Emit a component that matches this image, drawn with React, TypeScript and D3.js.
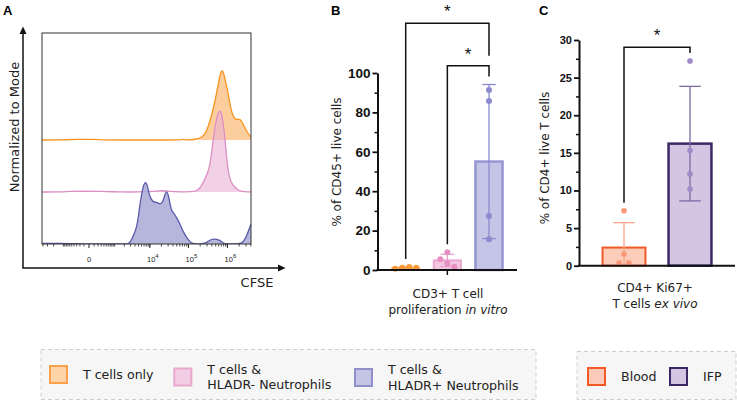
import { useEffect, useRef } from 'react';
import * as d3 from 'd3';

const W = 737;
const H = 401;
const SANS = "'DejaVu Sans', 'Noto Sans', sans-serif";
const ARIAL = "'Liberation Sans', Arial, sans-serif";

// ---- A: CFSE dilution histograms (CFSE intensity, % of mode) ----
const tOnlyCfse = [-4250, -1285, -302, 150, 300, 1483, 20400, 60700, 73800, 90300, 147500, 219300, 266300, 305000, 358300, 410600, 481400, 551600, 627400, 686300, 740600, 819500, 894600, 994700, 1100000, 1238000, 1418000, 1569000, 1818000, 2107000, 2370000, 2830000, 3441000, 4030000];
const tOnlyMode = [0, 0, 0.8, 0.8, 0, 0, 0, 0, 1, 0, 0.6, 3.2, 7, 13.4, 23, 33.7, 47.6, 62, 76, 83, 85.4, 80.5, 71, 62, 51, 36.6, 29, 25.6, 25, 25.6, 22, 14.6, 7.3, 3.7];

const hladrNegCfse = [-4250, -1285, -600, -199, 300, 1483, 5463, 12340, 20400, 27500, 40800, 90300, 147500, 179400, 219300, 266300, 318000, 358300, 403000, 435000, 481400, 531800, 584400, 646100, 715100, 786400, 868200, 994700, 1100000, 1238000, 1418000, 1733000, 2107000, 2830000, 4030000];
const hladrNegMode = [0, 0, 0.8, 1, 0.8, 0, 0, 0.8, 1.8, 1.2, 0.5, 0, 0.5, 2.4, 8, 16, 24, 34, 51, 65, 80, 90, 97, 100, 95, 83, 65, 33, 20, 12, 8, 3.7, 1.2, 0.3, 0];

const hladrPosCfse = [-4250, -1285, -302, 0, 1483, 2087, 2598, 3096, 3588, 4447, 4976, 5463, 6074, 6700, 7437, 7907, 8666, 9482, 10725, 12340, 15110, 17380, 20400, 22730, 24880, 27500, 30300, 33500, 37200, 40800, 49900, 60700, 73800, 90300, 109800, 133300, 237000, 294600, 358300, 435000, 531800, 646100, 786400, 868200, 2107000, 2557000, 3131000, 3585000, 4030000];
const hladrPosMode = [0.6, 1, 0.4, 0, 0, 0, 0, 3.7, 10, 20, 34, 49, 61, 71, 75, 75, 71, 61, 55, 51, 51, 49, 49, 54, 61, 65, 60, 49, 40, 38.5, 32, 24.4, 14.6, 8, 2.4, 0, 0, 1.8, 4.9, 6, 6, 4.3, 1.2, 0, 0, 2.4, 10, 18, 24.4];

const cfseTicks = [0, 1e4, 1e5, 1e6];

// ---- B: CD3+ T cell proliferation in vitro (% of CD45+ live cells) ----
const invitroGroups = ['T cells only', 'HLADR- Neutrophils', 'HLADR+ Neutrophils'];
const tOnlyPct = [0.6, 1.5, 1.2, 1.2];
const hladrNegPct = [9.0, 5.4, 3.4, 1.7];
const hladrPosPct = [91.4, 85.8, 27.4, 15.6];
const invitroSig = [
  ['T cells only', 'HLADR+ Neutrophils', '*'],
  ['HLADR- Neutrophils', 'HLADR+ Neutrophils', '*'],
];

// ---- C: CD4+ Ki67+ T cells ex vivo (% of CD4+ live T cells) ----
const exvivoGroups = ['Blood', 'IFP'];
const bloodPct = [7.3, 1.55, 0.4, 0.4];
const ifpPct = [27.2, 15.3, 12.2, 10.2];
const exvivoSig = [['Blood', 'IFP', '*']];

const histStyles = [
  { stroke: '#f7941d', fill: '#fbbd7d', opacity: 0.75 },
  { stroke: '#dc8fc4', fill: '#eab0d3', opacity: 0.6 },
  { stroke: '#5a5aaa', fill: '#a9a9d6', opacity: 0.85 },
];

const invitroStyles = [
  { fill: '#fcd2a6', stroke: '#f7a24c', dot: '#f7983a', err: '#f7a24c', sw: 1.5 },
  { fill: '#f4c8e1', stroke: '#e9a6cf', dot: '#e58fc3', err: '#e9a0cc', sw: 2 },
  { fill: '#c5c5e7', stroke: '#9696d2', dot: '#8b8bcf', err: '#8b8bcf', sw: 2.5 },
];
const exvivoStyles = [
  { fill: '#fccdb9', stroke: '#f15a24', dot: '#f7987a', err: '#f7a68c', sw: 2 },
  { fill: '#d4c6e3', stroke: '#3b2865', dot: '#a08bc8', err: '#7b68a4', sw: 2.5 },
];

const legendLeft = [
  { label: ['T cells only'], fill: '#fdd4a8', stroke: '#f9a04a' },
  { label: ['T cells &', 'HLADR- Neutrophils'], fill: '#f3cde3', stroke: '#eaa8cf' },
  { label: ['T cells &', 'HLADR+ Neutrophils'], fill: '#c4c4e4', stroke: '#8f8fca' },
];
const legendRight = [
  { label: ['Blood'], fill: '#fccabb', stroke: '#f15a24' },
  { label: ['IFP'], fill: '#d4c6e2', stroke: '#3a2865' },
];

// spread overlapping dots sideways, then centre each touching cluster
function dodge(vals, y, minGap) {
  const order = d3.range(vals.length).sort((a, b) => vals[b] - vals[a]);
  const slot = vals.map(() => 0);
  const placed = [];
  const cand = [0, -1, 1, -2, 2, -3, 3];
  for (const i of order) {
    for (const s of cand) {
      const free = placed.every((j) => slot[j] !== s || Math.abs(y(vals[j]) - y(vals[i])) >= minGap);
      if (free) { slot[i] = s; break; }
    }
    placed.push(i);
  }
  const parent = vals.map((_, i) => i);
  const find = (i) => (parent[i] === i ? i : (parent[i] = find(parent[i])));
  vals.forEach((a, i) => vals.forEach((b, j) => {
    if (i < j && Math.abs(y(a) - y(b)) < minGap) parent[find(i)] = find(j);
  }));
  const groups = d3.group(d3.range(vals.length), find);
  groups.forEach((idx) => {
    const [lo, hi] = d3.extent(idx, (i) => slot[i]);
    idx.forEach((i) => { slot[i] -= (lo + hi) / 2; });
  });
  return slot;
}

function drawHistograms(svg) {
  const box = { left: 42, right: 251, top: 33, bottom: 244 };
  const x = d3.scaleSymlog().constant(283).domain([-4250, 4.03e6]).range([box.left, box.right]);
  const h = d3.scaleLinear().domain([0, 100]).range([0, 82]);
  const laneStep = 52;
  const g = svg.append('g');

  g.append('text').attr('x', 3).attr('y', 15).attr('font-family', ARIAL)
    .attr('font-weight', 'bold').attr('font-size', 13).text('A');

  // outer arrows
  g.append('line').attr('x1', 23).attr('y1', 268).attr('x2', 23).attr('y2', 33)
    .attr('stroke', '#111').attr('stroke-width', 1.5);
  g.append('path').attr('d', 'M23,26.5 L19.5,34 L26.5,34 Z').attr('fill', '#111');
  g.append('line').attr('x1', 22.3).attr('y1', 268).attr('x2', 279).attr('y2', 268)
    .attr('stroke', '#111').attr('stroke-width', 1.5);
  g.append('path').attr('d', 'M285.5,268 L278,264.5 L278,271.5 Z').attr('fill', '#111');

  g.append('text')
    .attr('transform', 'translate(19,127) rotate(-90)')
    .attr('text-anchor', 'middle').attr('font-family', SANS).attr('font-size', 13)
    .attr('fill', '#222').text('Normalized to Mode');
  g.append('text').attr('x', 257).attr('y', 287).attr('text-anchor', 'middle')
    .attr('font-family', SANS).attr('font-size', 13).attr('fill', '#222').text('CFSE');

  svg.append('clipPath').attr('id', 'histClip').append('rect')
    .attr('x', box.left).attr('y', box.top).attr('width', box.right - box.left).attr('height', box.bottom - box.top);

  const series = [
    [hladrPosCfse, hladrPosMode],
    [hladrNegCfse, hladrNegMode],
    [tOnlyCfse, tOnlyMode],
  ];
  const plot = g.append('g').attr('clip-path', 'url(#histClip)');
  // draw the top lane first so lower lanes sit over it
  [2, 1, 0].forEach((lane) => {
    const [xs, ys] = series[lane];
    const pts = xs.map((v, i) => [v, ys[i]]);
    const base = box.bottom - lane * laneStep;
    const st = histStyles[2 - lane];
    const area = d3.area().x((d) => x(d[0])).y0(base).y1((d) => base - h(d[1])).curve(d3.curveBasis);
    const line = d3.line().x((d) => x(d[0])).y((d) => base - h(d[1])).curve(d3.curveBasis);
    plot.append('path').attr('d', area(pts)).attr('fill', st.fill).attr('fill-opacity', st.opacity);
    plot.append('path').attr('d', line(pts)).attr('fill', 'none').attr('stroke', st.stroke).attr('stroke-width', 1.3);
  });

  g.append('rect').attr('x', box.left).attr('y', box.top)
    .attr('width', box.right - box.left).attr('height', box.bottom - box.top)
    .attr('fill', 'none').attr('stroke', '#333').attr('stroke-width', 1);

  // biexponential minor ticks along the bottom edge
  const minor = [];
  [-1000, -100].forEach((d) => d3.range(1, 10).forEach((k) => { if (d * k >= -4250) minor.push(d * k); }));
  [100, 1000, 1e4, 1e5, 1e6].forEach((d) => d3.range(1, 10).forEach((k) => { if (d * k <= 4.03e6) minor.push(d * k); }));
  g.selectAll('.mtick').data(minor).join('line')
    .attr('x1', (d) => x(d)).attr('x2', (d) => x(d))
    .attr('y1', box.bottom).attr('y2', box.bottom + 2.5)
    .attr('stroke', '#222').attr('stroke-width', 0.8);
  g.selectAll('.Mtick').data(cfseTicks).join('line')
    .attr('x1', (d) => x(d)).attr('x2', (d) => x(d))
    .attr('y1', box.bottom).attr('y2', box.bottom + 4)
    .attr('stroke', '#222').attr('stroke-width', 1);

  const labels = g.selectAll('.tl').data(cfseTicks).join('text')
    .attr('x', (d) => (d === 0 ? x(d) : x(d) + 3)).attr('y', 262)
    .attr('text-anchor', 'middle').attr('font-family', ARIAL).attr('font-size', 7.5).attr('fill', '#222');
  labels.each(function (d) {
    const t = d3.select(this);
    if (d === 0) { t.text('0'); return; }
    t.append('tspan').text('10');
    t.append('tspan').attr('dy', -4).attr('font-size', 6).text(String(Math.round(Math.log10(d))));
  });
}

function drawBars(svg, cfg) {
  const g = svg.append('g');
  const y = d3.scaleLinear().domain([0, cfg.yMax]).range([cfg.yBottom, cfg.yTop]);
  const x = d3.scalePoint().domain(cfg.groups).range(cfg.centers);
  const step = (cfg.centers[1] - cfg.centers[0]) / (cfg.groups.length - 1);
  const bw = step * 0.65;
  const cap = bw / 2;

  g.append('text').attr('x', cfg.labelX).attr('y', 15).attr('font-family', ARIAL)
    .attr('font-weight', 'bold').attr('font-size', 13).text(cfg.label);

  const stats = cfg.values.map((v) => {
    const m = d3.mean(v);
    const sd = d3.deviation(v);
    return { m, hi: m + sd, lo: Math.max(0, m - sd), top: Math.max(m + sd, d3.max(v)) };
  });

  cfg.groups.forEach((grp, i) => {
    const st = cfg.styles[i];
    const s = stats[i];
    const cx = x(grp);
    g.append('rect').attr('x', cx - bw / 2).attr('y', y(s.m))
      .attr('width', bw).attr('height', y(0) - y(s.m))
      .attr('fill', st.fill).attr('stroke', st.stroke).attr('stroke-width', st.sw);
    g.append('line').attr('x1', cx).attr('x2', cx).attr('y1', y(s.lo)).attr('y2', y(s.hi))
      .attr('stroke', st.err).attr('stroke-width', 1.3);
    [s.hi, s.lo].forEach((v) => {
      if (v <= 0) return;
      g.append('line').attr('x1', cx - cap / 2).attr('x2', cx + cap / 2).attr('y1', y(v)).attr('y2', y(v))
        .attr('stroke', st.err).attr('stroke-width', 1.3);
    });
    const slots = dodge(cfg.values[i], y, cfg.minGap);
    g.selectAll(null).data(cfg.values[i]).join('circle')
      .attr('cx', (d, j) => cx + slots[j] * cfg.dodgeStep).attr('cy', (d) => y(d))
      .attr('r', cfg.dotR).attr('fill', st.dot);
  });

  // axes
  const majors = d3.range(0, cfg.yMax + 1e-9, cfg.major);
  const minors = d3.range(cfg.minor, cfg.yMax, cfg.major);
  const ya = g.append('g').attr('transform', `translate(${cfg.axisX},0)`)
    .call(d3.axisLeft(y).tickValues(majors).tickSize(5).tickSizeOuter(0).tickPadding(2));
  ya.select('.domain').attr('stroke', '#111').attr('stroke-width', 2);
  ya.selectAll('.tick line').attr('stroke', '#111').attr('stroke-width', 1.8);
  ya.selectAll('.tick text').attr('font-family', ARIAL).attr('font-weight', 'bold')
    .attr('font-size', cfg.tickFont).attr('fill', '#111');
  const ym = g.append('g').attr('transform', `translate(${cfg.axisX},0)`)
    .call(d3.axisLeft(y).tickValues(minors).tickSize(3).tickFormat(() => ''));
  ym.select('.domain').remove();
  ym.selectAll('.tick line').attr('stroke', '#111').attr('stroke-width', 1.5);

  g.append('line').attr('x1', cfg.axisX - 1).attr('x2', cfg.axisRight)
    .attr('y1', y(0)).attr('y2', y(0)).attr('stroke', '#111').attr('stroke-width', 2);
  if (cfg.groupTick) {
    const mid = x(cfg.groups[Math.floor(cfg.groups.length / 2)]);
    g.append('line').attr('x1', mid).attr('x2', mid).attr('y1', y(0)).attr('y2', y(0) + 5)
      .attr('stroke', '#111').attr('stroke-width', 1.5);
  }

  g.append('text')
    .attr('transform', `translate(${cfg.yTitleX},${cfg.yTitleY}) rotate(-90)`)
    .attr('text-anchor', 'middle').attr('font-family', SANS).attr('font-size', 12)
    .attr('fill', '#222').text(cfg.yTitle);

  cfg.xTitle.forEach((segs, li) => {
    const t = g.append('text').attr('x', cfg.xTitleX).attr('y', cfg.xTitleY[li])
      .attr('text-anchor', 'middle').attr('font-family', SANS).attr('font-size', 12).attr('fill', '#222');
    segs.forEach(([txt, it]) => t.append('tspan').attr('font-style', it ? 'italic' : 'normal').text(txt));
  });

  // significance brackets
  cfg.sig.forEach(([a, b, mark], k) => {
    const tier = cfg.tiers[k];
    const xa = x(a);
    const xb = x(b);
    const ia = cfg.groups.indexOf(a);
    const ib = cfg.groups.indexOf(b);
    const lowerTier = k + 1 < cfg.tiers.length ? cfg.tiers[k + 1] - 10 : Infinity;
    const ya0 = y(stats[ia].top) - 8;
    const yb0 = Math.min(y(stats[ib].top) - 8, lowerTier);
    g.append('path').attr('d', `M${xa},${ya0} V${tier} H${xb} V${yb0}`)
      .attr('fill', 'none').attr('stroke', '#111').attr('stroke-width', 1.5);
    g.append('text').attr('x', (xa + xb) / 2).attr('y', tier - 6)
      .attr('text-anchor', 'middle').attr('font-family', ARIAL).attr('font-size', 17)
      .attr('fill', '#111').text(mark);
  });
}

function drawLegend(svg, box, items, xs, ys) {
  const g = svg.append('g');
  g.append('rect').attr('x', box[0]).attr('y', box[1]).attr('width', box[2]).attr('height', box[3])
    .attr('fill', '#f6f6f6').attr('stroke', '#cdcdcd').attr('stroke-width', 1).attr('stroke-dasharray', '4 3');
  items.forEach((it, i) => {
    const sy = ys[i];
    g.append('rect').attr('x', xs[i] + 1).attr('y', sy + 1).attr('width', 17).attr('height', 17)
      .attr('fill', it.fill).attr('stroke', it.stroke).attr('stroke-width', 2);
    const cy = sy + 9.5;
    it.label.forEach((ln, k) => {
      g.append('text').attr('x', xs[i] + 34)
        .attr('y', cy + 4.5 + (k - (it.label.length - 1) / 2) * 15.2)
        .attr('font-family', SANS).attr('font-size', 12.6).attr('fill', '#222').text(ln);
    });
  });
}

export default function App() {
  const ref = useRef(null);

  useEffect(() => {
    const svg = d3.select(ref.current);
    svg.selectAll('*').remove();

    drawHistograms(svg);

    drawBars(svg, {
      label: 'B', labelX: 331,
      groups: invitroGroups,
      values: [tOnlyPct, hladrNegPct, hladrPosPct],
      styles: invitroStyles,
      yMax: 100, major: 20, minor: 10,
      yTop: 73, yBottom: 270, axisX: 377.5, axisRight: 517,
      centers: [405.7, 489],
      tickFont: 13.5, dotR: 3, dodgeStep: 7, minGap: 7.5,
      groupTick: true,
      sig: invitroSig, tiers: [23.3, 65.7],
      yTitle: '% of CD45+ live cells', yTitleX: 341, yTitleY: 162,
      xTitle: [[['CD3+ T cell', false]], [['proliferation ', false], ['in vitro', true]]],
      xTitleX: 448, xTitleY: [298, 314],
    });

    drawBars(svg, {
      label: 'C', labelX: 539,
      groups: exvivoGroups,
      values: [bloodPct, ifpPct],
      styles: exvivoStyles,
      yMax: 30, major: 5, minor: 2.5,
      yTop: 40, yBottom: 265.7, axisX: 579, axisRight: 735,
      centers: [624, 690],
      tickFont: 11, dotR: 2.8, dodgeStep: 9.7, minGap: 7,
      groupTick: false,
      sig: exvivoSig, tiers: [47.3],
      yTitle: '% of CD4+ live T cells', yTitleX: 549, yTitleY: 158,
      xTitle: [[['CD4+ Ki67+', false]], [['T cells ', false], ['ex vivo', true]]],
      xTitleX: 655, xTitleY: [292, 308],
    });

    drawLegend(svg, [41, 349.5, 495, 50], legendLeft, [49, 173.3, 354], [365, 367.5, 368]);
    drawLegend(svg, [577, 351.5, 159, 48], legendRight, [587, 669], [367, 367]);
  }, []);

  return (
    <svg ref={ref} width={W} height={H}
      style={{ position: 'absolute', left: 0, top: 0, background: '#fff' }} />
  );
}
